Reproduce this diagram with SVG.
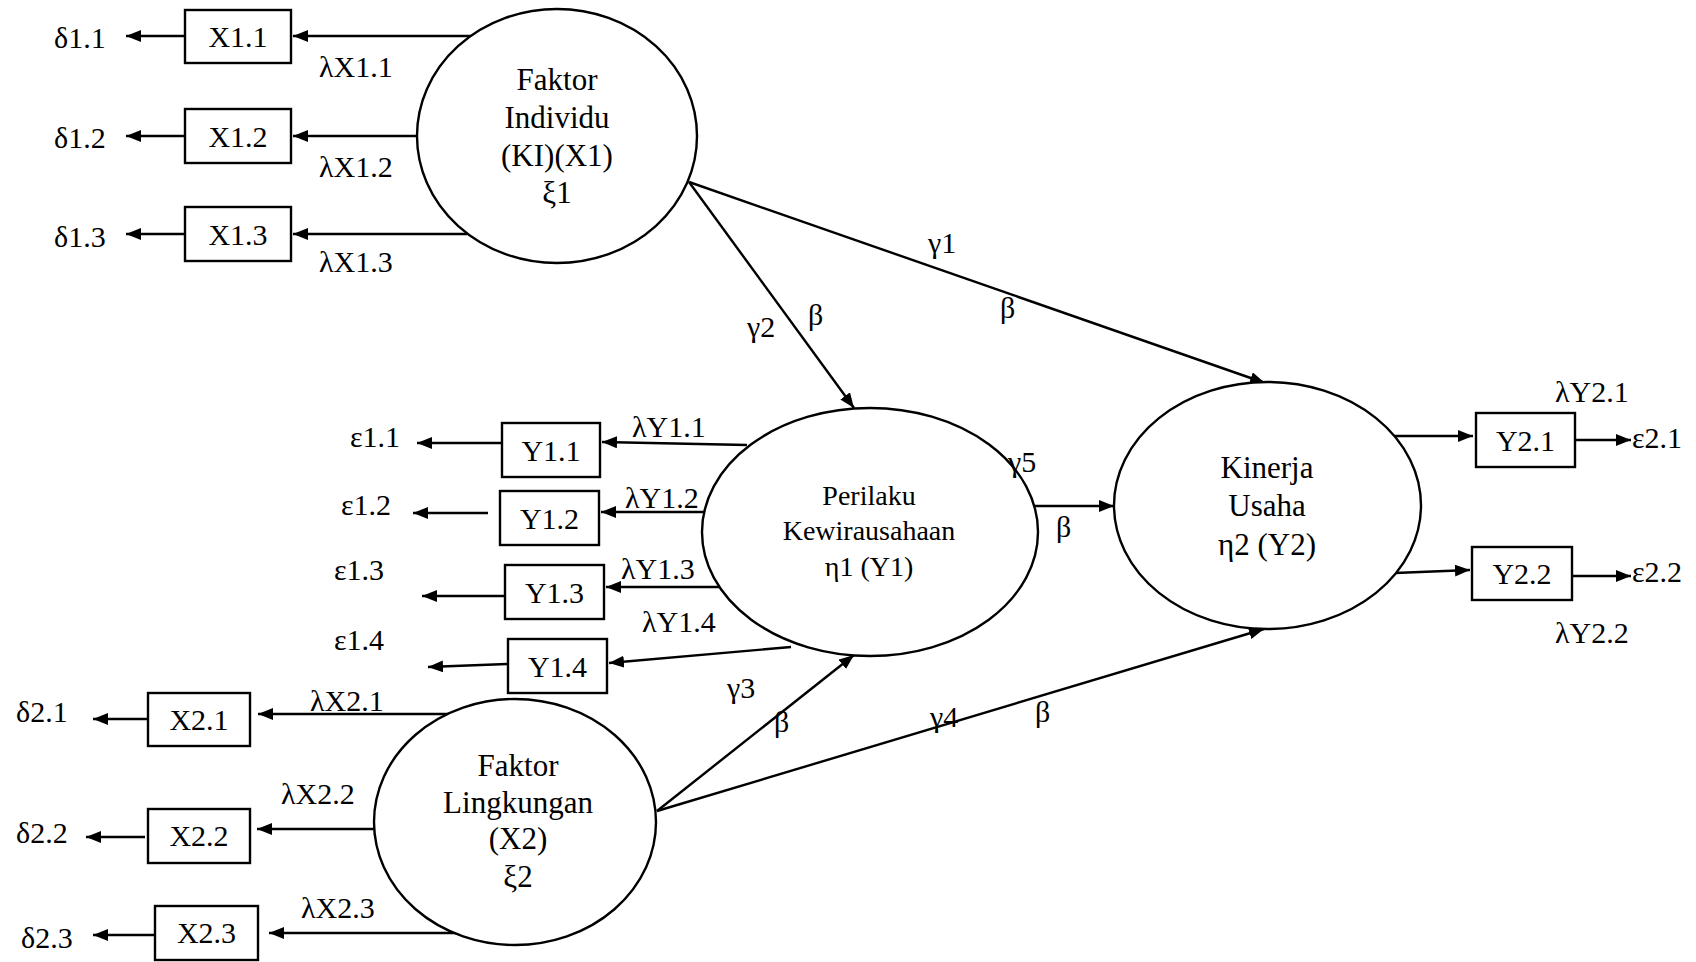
<svg xmlns="http://www.w3.org/2000/svg" width="1696" height="962" viewBox="0 0 1696 962">
<style>
text{font-family:"Liberation Serif","Times New Roman",serif;font-size:30px;fill:#000}
.c{text-anchor:middle}
.big{font-size:31px}
.mid{font-size:28px}
.node ellipse,.node rect{fill:#fff;stroke:#000;stroke-width:2.4}
#connectors line{stroke:#000;stroke-width:2.4;marker-end:url(#ah)}
</style>
<defs>
<marker id="ah" markerUnits="userSpaceOnUse" markerWidth="16" markerHeight="12" refX="15" refY="6" orient="auto">
<path d="M0,0 L15,6 L0,12 z" fill="#000"/>
</marker>
</defs>
<rect width="1696" height="962" fill="#fff"/>

<g id="connectors">
<line x1="473" y1="36" x2="293" y2="36"/>
<line x1="417" y1="136" x2="293" y2="136"/>
<line x1="467" y1="234" x2="293" y2="234"/>
<line x1="185" y1="36" x2="126" y2="36"/>
<line x1="185" y1="136" x2="126" y2="136"/>
<line x1="185" y1="234" x2="126" y2="234"/>
<line x1="689" y1="182" x2="854" y2="408"/>
<line x1="689" y1="182" x2="1265" y2="383"/>
<line x1="747" y1="445" x2="602" y2="442"/>
<line x1="704" y1="512" x2="601" y2="512"/>
<line x1="719" y1="587" x2="606" y2="587"/>
<line x1="791" y1="647" x2="609" y2="663"/>
<line x1="501" y1="443" x2="417" y2="443"/>
<line x1="488" y1="513" x2="413" y2="513"/>
<line x1="504" y1="596" x2="422" y2="596"/>
<line x1="507" y1="664" x2="428" y2="667"/>
<line x1="1032" y1="506" x2="1114" y2="506"/>
<line x1="1394" y1="436" x2="1473" y2="436"/>
<line x1="1395" y1="573" x2="1470" y2="570"/>
<line x1="1575" y1="440" x2="1631" y2="440"/>
<line x1="1572" y1="576" x2="1631" y2="576"/>
<line x1="454" y1="714" x2="258" y2="714"/>
<line x1="379" y1="829" x2="257" y2="829"/>
<line x1="460" y1="933" x2="269" y2="933"/>
<line x1="148" y1="719" x2="93" y2="719"/>
<line x1="145" y1="837" x2="86" y2="837"/>
<line x1="155" y1="935" x2="93" y2="935"/>
<line x1="657" y1="811" x2="854" y2="655"/>
<line x1="657" y1="811" x2="1264" y2="629"/>
</g>

<g id="faktor-individu" class="node">
<ellipse cx="557" cy="136" rx="140" ry="127"/>
<text class="c big" x="557" y="90">Faktor</text>
<text class="c big" x="557" y="128">Individu</text>
<text class="c big" x="557" y="166">(KI)(X1)</text>
<text class="c big" x="557" y="203">ξ1</text>
</g>
<g id="x11" class="node"><rect x="185" y="10" width="106" height="53"/><text class="c" x="238" y="47">X1.1</text></g>
<g id="x12" class="node"><rect x="185" y="109" width="106" height="54"/><text class="c" x="238" y="147">X1.2</text></g>
<g id="x13" class="node"><rect x="185" y="207" width="106" height="54"/><text class="c" x="238" y="245">X1.3</text></g>

<g id="perilaku" class="node">
<ellipse cx="870" cy="532" rx="168" ry="124"/>
<text class="c mid" x="869" y="505">Perilaku</text>
<text class="c mid" x="869" y="540">Kewirausahaan</text>
<text class="c mid" x="869" y="576">η1 (Y1)</text>
</g>
<g id="y11" class="node"><rect x="502" y="423" width="98" height="54"/><text class="c" x="551" y="461">Y1.1</text></g>
<g id="y12" class="node"><rect x="500" y="491" width="99" height="54"/><text class="c" x="549.5" y="529">Y1.2</text></g>
<g id="y13" class="node"><rect x="505" y="565" width="99" height="54"/><text class="c" x="554.5" y="603">Y1.3</text></g>
<g id="y14" class="node"><rect x="508" y="639" width="99" height="54"/><text class="c" x="557.5" y="677">Y1.4</text></g>

<g id="kinerja" class="node">
<ellipse cx="1267.5" cy="505.5" rx="153.5" ry="123.5"/>
<text class="c big" x="1267" y="478">Kinerja</text>
<text class="c big" x="1267" y="516">Usaha</text>
<text class="c big" x="1267" y="555">η2 (Y2)</text>
</g>
<g id="y21" class="node"><rect x="1476" y="413" width="99" height="54"/><text class="c" x="1525.5" y="451">Y2.1</text></g>
<g id="y22" class="node"><rect x="1472" y="547" width="100" height="53"/><text class="c" x="1522" y="584">Y2.2</text></g>

<g id="faktor-lingkungan" class="node">
<ellipse cx="515" cy="822" rx="141" ry="123"/>
<text class="c big" x="518" y="776">Faktor</text>
<text class="c big" x="518" y="813">Lingkungan</text>
<text class="c big" x="518" y="849">(X2)</text>
<text class="c big" x="518" y="887">ξ2</text>
</g>
<g id="x21" class="node"><rect x="148" y="693" width="102" height="53"/><text class="c" x="199" y="730">X2.1</text></g>
<g id="x22" class="node"><rect x="148" y="809" width="102" height="54"/><text class="c" x="199" y="846">X2.2</text></g>
<g id="x23" class="node"><rect x="155" y="906" width="103" height="54"/><text class="c" x="206.5" y="943">X2.3</text></g>

<g id="labels">
<text x="54" y="48">δ1.1</text>
<text x="54" y="148">δ1.2</text>
<text x="54" y="247">δ1.3</text>
<text x="319" y="77">λX1.1</text>
<text x="319" y="177">λX1.2</text>
<text x="319" y="272">λX1.3</text>
<text x="928" y="253">γ1</text>
<text x="1000" y="318">β</text>
<text x="747" y="337">γ2</text>
<text x="808" y="325">β</text>
<text x="632" y="437">λY1.1</text>
<text x="625" y="508">λY1.2</text>
<text x="621" y="579">λY1.3</text>
<text x="642" y="632">λY1.4</text>
<text x="350" y="447">ε1.1</text>
<text x="341" y="515">ε1.2</text>
<text x="334" y="580">ε1.3</text>
<text x="334" y="650">ε1.4</text>
<text x="1008" y="472">γ5</text>
<text x="1056" y="537">β</text>
<text x="1555" y="402">λY2.1</text>
<text x="1555" y="643">λY2.2</text>
<text x="1632" y="448">ε2.1</text>
<text x="1632" y="582">ε2.2</text>
<text x="16" y="722">δ2.1</text>
<text x="16" y="843">δ2.2</text>
<text x="21" y="948">δ2.3</text>
<text x="310" y="711">λX2.1</text>
<text x="281" y="804">λX2.2</text>
<text x="301" y="918">λX2.3</text>
<text x="727" y="698">γ3</text>
<text x="774" y="732">β</text>
<text x="930" y="727">γ4</text>
<text x="1035" y="722">β</text>
</g>
</svg>
